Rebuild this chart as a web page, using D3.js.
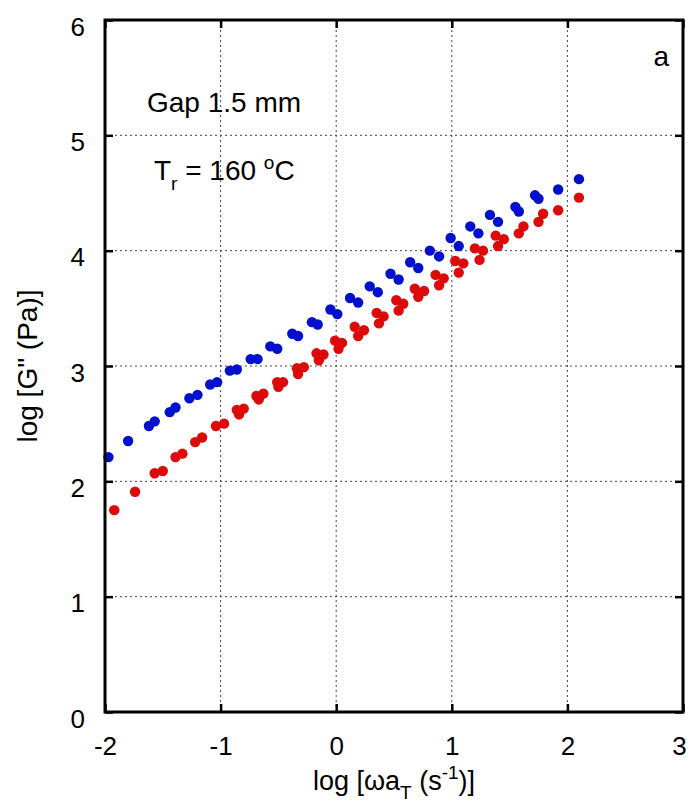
<!DOCTYPE html>
<html><head><meta charset="utf-8">
<script src="https://cdn.jsdelivr.net/npm/d3@7"></script>
<style>body{margin:0;background:#fff}svg text{font-family:"Liberation Sans",Arial,sans-serif}</style>
</head><body><svg id="c" width="688" height="807"></svg>
<script>
const xTicks=[-2,-1,0,1,2,3];
const yTicks=[0,1,2,3,4,5,6];
const blueX=[-1.97,-1.80,-1.62,-1.57,-1.44,-1.39,-1.27,-1.20,-1.09,-1.03,-0.92,-0.86,-0.74,-0.68,-0.57,-0.51,-0.38,-0.33,-0.21,-0.16,-0.05,0.01,0.12,0.19,0.29,0.36,0.47,0.54,0.64,0.71,0.81,0.89,0.99,1.06,1.16,1.23,1.33,1.40,1.55,1.58,1.72,1.75,1.92,2.10];
const blueY=[2.21,2.35,2.48,2.52,2.60,2.64,2.72,2.75,2.84,2.86,2.96,2.97,3.06,3.06,3.17,3.15,3.28,3.26,3.38,3.36,3.49,3.45,3.59,3.55,3.69,3.64,3.80,3.75,3.90,3.85,4.00,3.95,4.11,4.04,4.21,4.15,4.31,4.25,4.38,4.34,4.48,4.45,4.53,4.62];
const redX=[-1.92,-1.74,-1.57,-1.50,-1.39,-1.33,-1.22,-1.16,-1.04,-0.97,-0.86,-0.80,-0.84,-0.69,-0.63,-0.67,-0.51,-0.46,-0.50,-0.34,-0.28,-0.33,-0.17,-0.11,-0.15,-0.01,0.05,0.02,0.16,0.24,0.19,0.35,0.41,0.37,0.52,0.58,0.54,0.68,0.76,0.71,0.86,0.93,0.89,1.03,1.10,1.06,1.20,1.27,1.24,1.38,1.45,1.40,1.58,1.62,1.75,1.79,1.92,2.10];
const redY=[1.75,1.91,2.07,2.09,2.21,2.24,2.34,2.38,2.48,2.50,2.62,2.63,2.58,2.74,2.76,2.71,2.86,2.86,2.82,2.98,2.99,2.93,3.11,3.10,3.05,3.22,3.20,3.15,3.34,3.31,3.26,3.46,3.43,3.37,3.57,3.54,3.48,3.67,3.65,3.60,3.79,3.76,3.70,3.91,3.89,3.81,4.02,4.00,3.92,4.13,4.10,4.04,4.15,4.21,4.25,4.32,4.35,4.46];

const svg=d3.select("#c");
const L=105,R=683,T=20,B=712;
const x=d3.scaleLinear().domain([-2,3]).range([L,R]);
const y=d3.scaleLinear().domain([0,6]).range([B,T]);

// grid
const g=svg.append("g");
g.selectAll(".gx").data(xTicks.slice(1,-1)).enter().append("line")
 .attr("x1",d=>x(d)).attr("x2",d=>x(d)).attr("y1",T).attr("y2",B)
 .attr("stroke","#444").attr("stroke-width",1).attr("stroke-dasharray","2,3");
g.selectAll(".gy").data(yTicks.slice(1,-1)).enter().append("line")
 .attr("y1",d=>y(d)).attr("y2",d=>y(d)).attr("x1",L).attr("x2",R)
 .attr("stroke","#444").attr("stroke-width",1).attr("stroke-dasharray","2,3");

// points
svg.append("g").selectAll("circle").data(blueX.map((v,i)=>[v,blueY[i]])).enter().append("circle")
 .attr("cx",d=>x(d[0])).attr("cy",d=>y(d[1])).attr("r",5.2).attr("fill","#0010cc");
svg.append("g").selectAll("circle").data(redX.map((v,i)=>[v,redY[i]])).enter().append("circle")
 .attr("cx",d=>x(d[0])).attr("cy",d=>y(d[1])).attr("r",5.2).attr("fill","#dd0a0a");

// axes with inward ticks
const fs="26px";
const fmt=d=>String(d);
const ax=svg.append("g").attr("transform",`translate(0,${B})`).call(d3.axisBottom(x).tickValues(xTicks).tickSize(-8).tickPadding(0).tickFormat(fmt));
const axT=svg.append("g").attr("transform",`translate(0,${T})`).call(d3.axisTop(x).tickValues(xTicks).tickSize(-8).tickFormat(""));
const ay=svg.append("g").attr("transform",`translate(${L},0)`).call(d3.axisLeft(y).tickValues(yTicks).tickSize(-8).tickPadding(20).tickFormat(fmt));
const ayR=svg.append("g").attr("transform",`translate(${R},0)`).call(d3.axisRight(y).tickValues(yTicks).tickSize(-8).tickFormat(""));
[ax,axT,ay,ayR].forEach(a=>{a.select(".domain").remove();a.selectAll("line").attr("stroke","#000").attr("stroke-width",2.5);a.selectAll("text").attr("font-size",fs).attr("fill","#000").attr("font-family","Liberation Sans, Arial, sans-serif");});
ax.selectAll("text").attr("y",43).attr("dy",0).attr("dx",d=>d===3?-4:0);
ay.selectAll("text").attr("dy",15);

svg.append("rect").attr("x",L).attr("y",T).attr("width",R-L).attr("height",B-T).attr("fill","none").attr("stroke","#000").attr("stroke-width",3);

// labels
svg.append("text").attr("x",147).attr("y",112).attr("font-size","28px").text("Gap 1.5 mm");
const t=svg.append("text").attr("x",154).attr("y",180).attr("font-size","28px");
t.append("tspan").text("T");
t.append("tspan").attr("font-size","19px").attr("dy",10).text("r");
t.append("tspan").attr("dy",-10).text(" = 160 ");
t.append("tspan").attr("font-size","19px").attr("dy",-11).text("o");
t.append("tspan").attr("dy",11).text("C");
svg.append("text").attr("x",669).attr("y",66).attr("font-size","28px").attr("text-anchor","end").text("a");

const xl=svg.append("text").attr("x",394).attr("y",790).attr("font-size","27px").attr("text-anchor","middle");
xl.append("tspan").text("log [ωa");
xl.append("tspan").attr("font-size","19px").attr("dy",9).text("T");
xl.append("tspan").attr("dy",-9).text(" (s");
xl.append("tspan").attr("font-size","19px").attr("dy",-11).text("-1");
xl.append("tspan").attr("dy",11).text(")]");

svg.append("text").attr("transform",`translate(37,${(T+B)/2}) rotate(-90)`).attr("font-size","28px").attr("text-anchor","middle").text('log [G" (Pa)]');
</script></body></html>
